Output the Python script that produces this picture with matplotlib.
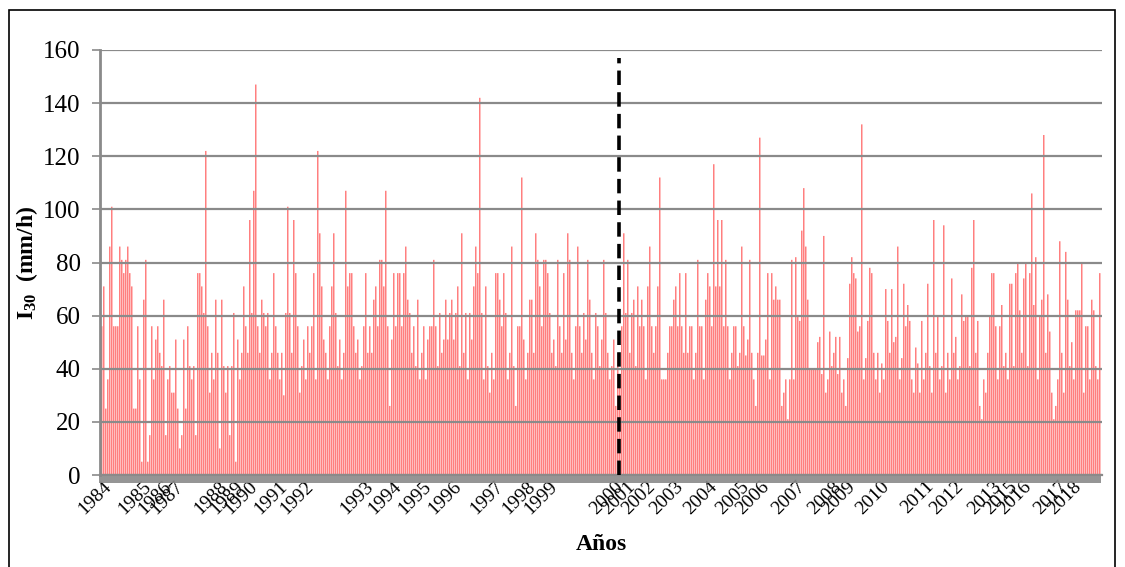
import numpy as np
import matplotlib.pyplot as plt
from matplotlib.patches import Rectangle

plt.rcParams['font.family'] = ['Liberation Serif', 'DejaVu Serif']
plt.rcParams['mathtext.fontset'] = 'custom'
plt.rcParams['mathtext.rm'] = 'Liberation Serif'
plt.rcParams['mathtext.bf'] = 'Liberation Serif:bold'

# I30 (mm/h) por evento, agrupado por año
years = [1984, 1985, 1986, 1987, 1988, 1989, 1990, 1991, 1992, 1993, 1994, 1995,
         1996, 1997, 1998, 1999, 2000, 2001, 2002, 2003, 2004, 2005, 2006, 2007,
         2008, 2009, 2010, 2011, 2012, 2013, 2015, 2016, 2017, 2018]

i30 = [
    [56, 71, 25, 36, 86, 101, 56, 56, 56, 86, 81, 76, 81, 86, 76, 71, 25, 25, 56, 36],
    [5, 66, 81, 5, 15, 56, 36, 51, 56, 46],
    [41, 66, 15, 36, 41, 31],
    [31, 51, 25, 10, 15, 51, 25, 56, 41, 36, 41, 15, 76, 76, 71, 61, 122, 56, 31, 46, 36, 66],
    [46, 10, 66, 41, 31, 41, 15, 41],
    [61, 5, 51, 36, 46, 71, 56],
    [46, 96, 61, 107, 147, 56, 46, 66, 61, 56, 61, 36, 46, 76, 56],
    [46, 36, 46, 30, 61, 101, 61, 46, 96, 76, 56, 31, 41],
    [51, 36, 56, 46, 56, 76, 36, 122, 91, 71, 51, 46, 36, 56, 71, 91, 61, 41, 51, 36,
     46, 107, 71, 76, 76, 56, 46, 51, 36, 41],
    [56, 76, 46, 56, 46, 66, 71, 56, 81, 81, 71, 107, 56, 26],
    [51, 76, 56, 76, 76, 56, 76, 86, 66, 61, 46, 56, 41, 66, 36],
    [46, 56, 36, 51, 56, 56, 81, 56, 41, 61, 46, 51, 66, 51, 61],
    [66, 51, 61, 71, 41, 91, 46, 61, 36, 61, 51, 71, 86, 76, 142, 61, 36, 71, 41, 31, 46],
    [36, 76, 76, 66, 56, 76, 61, 36, 46, 86, 41, 26, 56, 56, 112, 51],
    [36, 46, 66, 66, 46, 91, 81, 71, 56, 81, 81],
    [76, 61, 46, 51, 41, 81, 56, 46, 76, 51, 91, 81, 46, 36, 56, 86, 56, 46, 61, 51,
     81, 66, 46, 36, 61, 56, 41, 51, 81, 61, 46, 36, 41],
    [51, 26, 46, 36, 56, 91],
    [61, 81, 46, 61, 66, 41, 71, 56, 66, 56],
    [36, 71, 86, 56, 46, 56, 71, 112, 36, 36, 36, 46, 56, 56],
    [66, 71, 56, 76, 56, 46, 76, 46, 56, 56, 36, 46, 81, 56, 56, 36, 66],
    [76, 71, 56, 117, 71, 96, 71, 96, 56, 81, 56, 36, 46, 56, 56, 41],
    [46, 86, 56, 45, 51, 81, 46, 36, 26, 46],
    [127, 45, 45, 51, 76, 36, 76, 66, 71, 66, 66, 26, 31, 36, 21, 36, 81, 36],
    [82, 60, 58, 92, 108, 86, 66, 40, 40, 40, 40, 50, 52, 38, 90, 31, 36, 54],
    [41, 46, 52, 38, 52, 31, 36],
    [26, 44, 72, 82, 76, 74, 54, 56, 132, 36, 44, 58, 78, 76, 46, 36, 46],
    [31, 42, 36, 70, 58, 46, 70, 50, 52, 86, 36, 44, 72, 56, 64, 58, 36, 31, 48, 42, 31, 58],
    [36, 46, 72, 41, 31, 96, 46, 60, 36, 41, 94, 31, 46, 36, 74],
    [46, 52, 36, 41, 68, 58, 60, 60, 41, 78, 96, 46, 58, 26, 21, 36, 31, 46, 60],
    [76, 76, 56, 36, 56, 64, 41, 46],
    [36, 72, 72, 41, 76, 80, 62],
    [46, 74, 80, 41, 76, 106, 64, 82, 36, 60, 66, 128, 46, 68, 54, 31, 21, 26],
    [36, 88, 46, 31, 84, 66, 41],
    [50, 36, 62, 62, 62, 80, 31, 56, 56, 36, 66, 62, 41, 36, 76],
]

values = [v for grp in i30 for v in grp]
n = len(values)
starts = np.cumsum([0] + [len(g) for g in i30[:-1]])
split_year = 2000

fig = plt.figure(figsize=(11.25, 5.67), dpi=100)
ax = fig.add_axes([100 / 1125, 1 - 475 / 567, 1002 / 1125, 425 / 567])

# barras finas (~1.5 px) alineadas con la rejilla de píxeles
bars = ax.bar(np.arange(n), values, width=0.75, align='edge', color='#ff7f7f',
              linewidth=0, zorder=1)
for b in bars:
    b.set_snap(False)

ax.set_ylim(0, 160)
ax.set_xlim(-0.5, n + 0.5)
ax.set_yticks(np.arange(0, 161, 20))
ax.yaxis.grid(True, color='#8a8a8a', linewidth=1.6, zorder=3)
ax.set_axisbelow(False)

ax.tick_params(axis='y', labelsize=18, length=6, width=1.2, color='#8a8a8a', pad=8)
ax.set_xticks(starts + 1)
ax.set_xticklabels([str(y) for y in years], rotation=45, ha='right',
                   rotation_mode='anchor', fontsize=14)
ax.tick_params(axis='x', length=0, pad=2)
ax.set_xticks(np.arange(-0.5, n + 0.5, 1), minor=True)
ax.tick_params(axis='x', which='minor', length=6, width=1.3, color='#8a8a8a')

for s in ['top', 'right']:
    ax.spines[s].set_visible(False)
ax.spines['left'].set_color('#8a8a8a')
ax.spines['left'].set_linewidth(2)
ax.spines['bottom'].set_color('#8a8a8a')
ax.spines['bottom'].set_linewidth(1.6)

# línea de separación de periodos
xs = starts[years.index(split_year)] + 3
ax.plot([xs, xs], [0, 157], color='black', linewidth=2.6, linestyle=(0, (4, 2)), zorder=4)

ax.set_ylabel(r'$\mathbf{I_{30}}$  (mm/h)', fontsize=17, fontweight='bold', labelpad=2)
ax.set_xlabel('Años', fontsize=17, fontweight='bold', labelpad=12)

fig.patches.append(Rectangle((9 / 1125, -0.05), 1106 / 1125, 1.05 - 10 / 567,
                             transform=fig.transFigure, fill=False,
                             edgecolor='black', linewidth=1.2))

fig.savefig('out.png', dpi=100)
